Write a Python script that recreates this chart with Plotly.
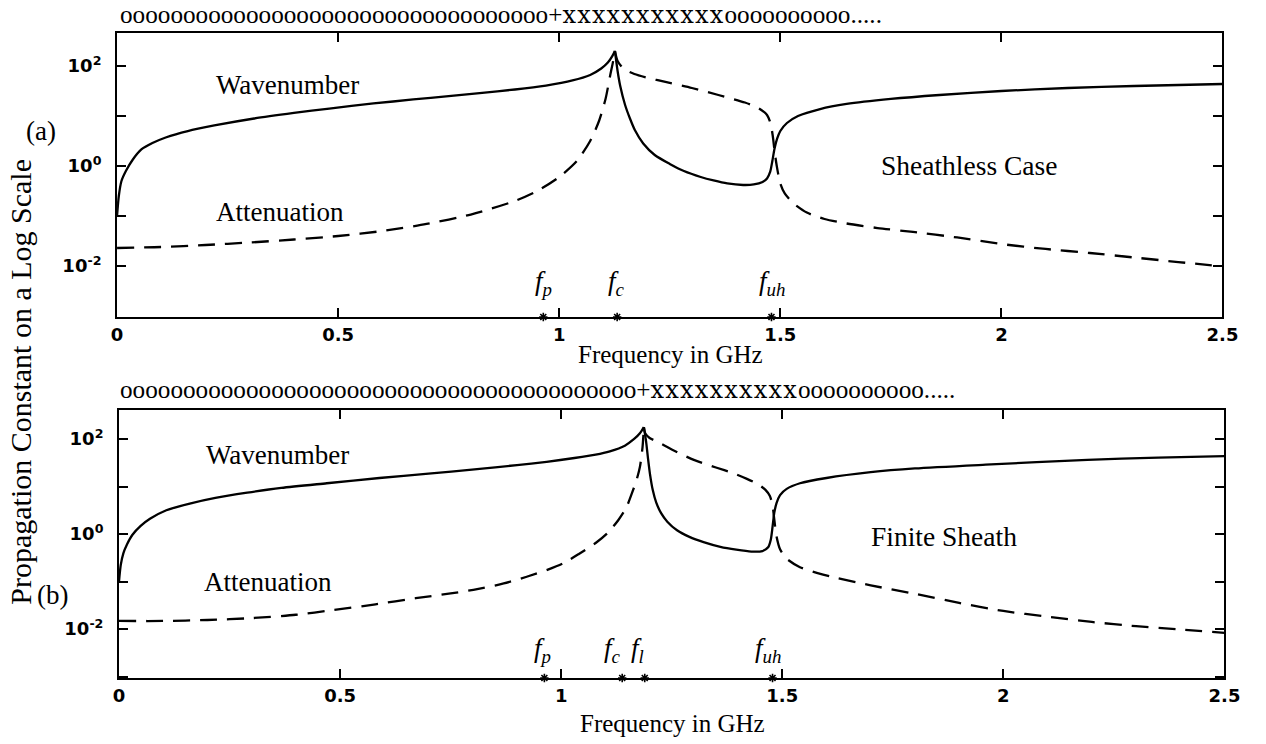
import plotly.graph_objects as go

W, H = 1266, 744

# ---------------- data: panel (a) sheathless case ----------------
fa_wave = [0.0, 0.004, 0.01, 0.02, 0.035, 0.055, 0.08, 0.11, 0.16, 0.22, 0.31, 0.40,
           0.48, 0.58, 0.67, 0.75, 0.82, 0.90, 0.97, 1.03, 1.07, 1.095, 1.11, 1.12, 1.126,
           1.132, 1.138, 1.149, 1.16, 1.171, 1.19, 1.216, 1.25, 1.282, 1.32, 1.349, 1.38,
           1.416, 1.44, 1.46, 1.47, 1.477, 1.482, 1.487, 1.493, 1.50, 1.515, 1.54, 1.59,
           1.65, 1.75, 1.86, 2.0, 2.15, 2.3, 2.5]
ka_wave = [0.1, 0.251, 0.501, 0.794, 1.32, 2.14, 2.88, 3.72, 5.01, 6.46, 8.91, 11.5,
           14.1, 17.8, 21.4, 25.1, 28.8, 33.9, 40.7, 51.3, 66.1, 89.1, 117, 158, 200,
           79.4, 39.8, 16.6, 8.91, 5.25, 2.82, 1.66, 1.10, 0.794, 0.603, 0.513, 0.447,
           0.417, 0.427, 0.479, 0.562, 0.759, 1.26, 2.24, 3.55, 5.01, 7.24, 10.0, 13.8,
           17.4, 21.9, 26.3, 31.6, 36.3, 39.8, 43.7]

fa_att = [0.0, 0.1, 0.2, 0.3, 0.4, 0.5, 0.6, 0.7, 0.8, 0.9, 0.95, 1.0, 1.04, 1.07, 1.09,
          1.105, 1.115, 1.122, 1.126,
          1.132, 1.145, 1.17, 1.22, 1.30, 1.36, 1.42, 1.45, 1.47, 1.478, 1.483, 1.487,
          1.492, 1.50, 1.51, 1.53, 1.56, 1.60, 1.65, 1.72, 1.80, 1.90, 2.00, 2.10, 2.20,
          2.30, 2.40, 2.50]
ka_att = [0.0229, 0.0240, 0.0263, 0.0295, 0.0339, 0.0398, 0.0501, 0.0692, 0.107, 0.200,
          0.316, 0.603, 1.26, 3.16, 7.94, 22.4, 63.1, 126, 200,
          126, 89.1, 69.2, 52.5, 36.3, 26.3, 18.6, 14.5, 10.5, 7.08, 3.98, 2.0,
          1.0, 0.447, 0.282, 0.178, 0.117, 0.0871, 0.0708, 0.0575, 0.0479, 0.0372, 0.0275,
          0.0219, 0.0182, 0.0148, 0.0120, 0.0098]

# ---------------- data: panel (b) finite sheath ----------------
fb_wave = [0.0, 0.004, 0.01, 0.018, 0.03, 0.049, 0.07, 0.107, 0.16, 0.218, 0.29, 0.367,
           0.47, 0.589, 0.70, 0.804, 0.90, 0.967, 1.03, 1.078, 1.11, 1.144, 1.165, 1.178,
           1.187,
           1.192, 1.196, 1.201, 1.207, 1.215, 1.226, 1.24, 1.262, 1.29, 1.322, 1.36, 1.396,
           1.43, 1.455, 1.468, 1.474, 1.478, 1.482, 1.487, 1.495, 1.51, 1.54, 1.6, 1.7, 1.8,
           1.96, 2.19, 2.35, 2.5]
kb_wave = [0.1, 0.224, 0.398, 0.603, 0.955, 1.48, 2.09, 3.16, 4.37, 5.75, 7.41, 9.33,
           11.7, 15.1, 18.6, 22.9, 28.2, 33.1, 39.8, 46.8, 55.0, 72.4, 100, 132,
           178,
           89.1, 41.7, 17.8, 8.51, 4.57, 2.75, 1.82, 1.20, 0.871, 0.676, 0.537, 0.468,
           0.427, 0.437, 0.525, 0.759, 1.41, 2.82, 4.47, 6.61, 8.91, 11.7, 15.1, 20.0, 24.0,
           28.8, 36.3, 40.7, 43.7]

fb_att = [0.0, 0.1, 0.2, 0.3, 0.4, 0.484, 0.58, 0.671, 0.75, 0.81, 0.87, 0.922, 0.97,
          1.004, 1.04, 1.078, 1.105, 1.129, 1.147, 1.16, 1.17, 1.178, 1.184, 1.187,
          1.19, 1.2, 1.218, 1.25, 1.30, 1.35, 1.389, 1.42, 1.445, 1.462, 1.472, 1.478,
          1.482, 1.487, 1.495, 1.51, 1.54, 1.58, 1.611, 1.7, 1.8, 1.9, 2.0, 2.1, 2.2, 2.3,
          2.4, 2.5]
kb_att = [0.0148, 0.0148, 0.0155, 0.0170, 0.0200, 0.0251, 0.0331, 0.0447, 0.0562, 0.0692,
          0.0912, 0.126, 0.178, 0.240, 0.380, 0.646, 1.05, 1.95, 3.55, 7.24, 13.2, 25.7,
          67.6, 178,
          132, 105, 87.1, 60.3, 36.3, 25.1, 19.1, 14.5, 11.2, 8.51, 6.31, 3.98,
          2.0, 0.891, 0.479, 0.302, 0.200, 0.151, 0.126, 0.0832, 0.0550, 0.0355, 0.0240,
          0.0182, 0.0141, 0.0115, 0.0098, 0.0083]

# characteristic frequencies marked on the axis
fa_marks = [0.964, 1.131, 1.480]
fa_names = ["p", "c", "uh"]
fb_marks = [0.962, 1.138, 1.189, 1.478]
fb_names = ["p", "c", "l", "uh"]

x_ticks = [0, 0.5, 1, 1.5, 2, 2.5]
x_tick_text = ["0", "0.5", "1", "1.5", "2", "2.5"]
y_ticks = [1e-3, 1e-2, 1e-1, 1, 10, 100]
y_tick_text = ["", "10<sup>-2</sup>", "", "10<sup>0</sup>", "", "10<sup>2</sup>"]

# mode rows printed above each panel: (run before "+", x-run, trailing o-run)
mode_a = (34, 11, 10)
mode_b = (41, 10, 10)

# ---------------- figure ----------------
SERIF = "Liberation Serif"
SANS = "DejaVu Sans"
LW = 2.3
DASH = "17px,10px"


def px_x(p):
    return p / W


def px_y(p):
    return 1 - p / H


ya_range = [-3.02, 2.66]
yb_range = [-3.03, 2.61]

fig = go.Figure()


def add_curve(f, k, xa, ya, dash=None):
    # draw each branch on its own so the resonance cusp stays sharp
    i = k.index(max(k))
    for xs, ys in ((f[:i + 1], k[:i + 1]), (f[i:], k[i:])):
        fig.add_trace(go.Scatter(
            x=xs, y=ys, mode="lines", xaxis=xa, yaxis=ya, hoverinfo="skip",
            line=dict(color="black", width=LW, dash=dash, shape="spline", smoothing=0.7)))


add_curve(fa_wave, ka_wave, "x", "y")
add_curve(fa_att, ka_att, "x", "y", DASH)
add_curve(fb_wave, kb_wave, "x2", "y2")
add_curve(fb_att, kb_att, "x2", "y2", DASH)

# small star marks sitting on the frequency axis
star = dict(symbol="asterisk-open", size=7, color="black", line=dict(color="black", width=1.6))
fig.add_trace(go.Scatter(x=fa_marks, y=[10 ** ya_range[0]] * len(fa_marks), mode="markers",
                         xaxis="x", yaxis="y", cliponaxis=False, marker=star))
fig.add_trace(go.Scatter(x=fb_marks, y=[10 ** yb_range[0]] * len(fb_marks), mode="markers",
                         xaxis="x2", yaxis="y2", cliponaxis=False, marker=star))

axis_common = dict(showline=True, linecolor="black", linewidth=2, mirror="ticks",
                   ticks="inside", ticklen=9, tickwidth=1.6, tickcolor="black",
                   showgrid=False, zeroline=False,
                   tickfont=dict(family=SANS, size=18, color="black", weight="bold"))

fig.update_layout(
    width=W, height=H, margin=dict(l=0, r=0, t=0, b=0),
    paper_bgcolor="white", plot_bgcolor="white", showlegend=False,
    xaxis=dict(domain=[px_x(113), px_x(1238)], range=[0, 2.5], anchor="y",
               tickvals=x_ticks, ticktext=x_tick_text, ticklabelstandoff=0, **axis_common),
    yaxis=dict(domain=[px_y(317), px_y(33)], type="log", range=ya_range, anchor="x",
               tickvals=y_ticks, ticktext=y_tick_text, ticklabelstandoff=10, **axis_common),
    xaxis2=dict(domain=[px_x(115), px_x(1240)], range=[0, 2.5], anchor="y2",
                tickvals=x_ticks, ticktext=x_tick_text, ticklabelstandoff=0, **axis_common),
    yaxis2=dict(domain=[px_y(678), px_y(410)], type="log", range=yb_range, anchor="x2",
                tickvals=y_ticks, ticktext=y_tick_text, ticklabelstandoff=10, **axis_common),
)

ann = []


def text_paper(x, y, s, size, family=SERIF, xanchor="center", angle=0):
    ann.append(dict(x=px_x(x), y=px_y(y), xref="paper", yref="paper", text=s, showarrow=False,
                    xanchor=xanchor, yanchor="middle", textangle=angle, borderpad=0,
                    font=dict(family=family, size=size, color="black")))


def mode_row(counts):
    n_o, n_x, n_tail = counts
    return ("o" * n_o + "+"
            + '<span style="font-family:DejaVu Serif;font-size:24px;letter-spacing:1.2px">'
            + "x" * n_x + "</span>" + "o" * n_tail + ".....")


# mode rows above each panel
text_paper(115, 15, mode_row(mode_a), 25.2, xanchor="left")
text_paper(115, 390, mode_row(mode_b), 25.2, xanchor="left")

# curve and case labels
text_paper(286, 85, "Wavenumber", 27)
text_paper(279, 212, "Attenuation", 27)
text_paper(980, 165, "Sheathless Case", 27.5)
text_paper(276, 455, "Wavenumber", 27)
text_paper(267, 582, "Attenuation", 27)
text_paper(955, 536, "Finite Sheath", 27.5)
text_paper(36, 131, "(a)", 27)
text_paper(47, 595, "(b)", 27)

# axis titles
text_paper(676, 354, "Frequency in GHz", 25)
text_paper(678, 723, "Frequency in GHz", 25)
text_paper(14, 382, "Propagation Constant on a Log Scale", 30, angle=-90)

# frequency labels above the star marks
fa_label_x = [547, 621, 780]
for xp, nm in zip(fa_label_x, fa_names):
    text_paper(xp, 283, "<i>f<sub>%s</sub></i>" % nm, 27)
fb_label_x = [546, 617, 643, 775]
for xp, nm in zip(fb_label_x, fb_names):
    text_paper(xp, 650, "<i>f<sub>%s</sub></i>" % nm, 27)

fig.update_layout(annotations=ann)

fig.write_html("out.html")
